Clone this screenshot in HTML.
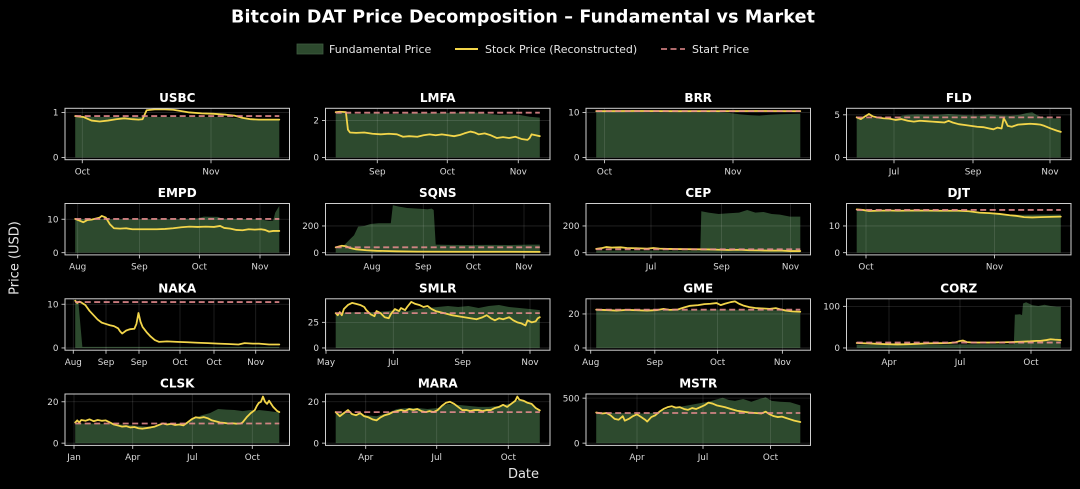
<!DOCTYPE html>
<html>
<head>
<meta charset="utf-8">
<style>
  html,body{margin:0;padding:0;background:#000;}
  svg{display:block;}
  .fill{fill:#2d4a2e;stroke:none;}
  .stk{fill:none;stroke:#f2d54a;stroke-width:1.8;vector-effect:non-scaling-stroke;stroke-linejoin:round;stroke-linecap:round;}
  .dash{stroke:#ec8f92;stroke-width:1.8;stroke-dasharray:6 3.5;opacity:0.85;}
  .grid{stroke:#ffffff;stroke-opacity:0.14;stroke-width:0.8;}
  .frame{fill:none;stroke:#cfcfcf;stroke-width:1;}
  .tick{stroke:#cfcfcf;stroke-width:0.9;}
  .tl{font-family:"DejaVu Sans","Liberation Sans",sans-serif;font-size:8.8px;fill:#dcdcdc;}
  .yl{text-anchor:end;}
  .xl{text-anchor:middle;}
  .ttl{font-family:"DejaVu Sans","Liberation Sans",sans-serif;font-size:12px;font-weight:bold;fill:#fff;text-anchor:middle;}
  .lg{font-family:"DejaVu Sans","Liberation Sans",sans-serif;font-size:11px;fill:#e6e6e6;}
  .ax{font-family:"DejaVu Sans","Liberation Sans",sans-serif;font-size:13px;fill:#e6e6e6;}
</style>
</head>
<body>
<svg width="1080" height="489" viewBox="0 0 1080 489" xmlns="http://www.w3.org/2000/svg">
<rect width="1080" height="489" fill="#000"/>

<!-- Title -->
<text x="523" y="22.5" text-anchor="middle" font-family="DejaVu Sans, Liberation Sans, sans-serif" font-size="17.5" font-weight="bold" fill="#fff" textLength="584">Bitcoin DAT Price Decomposition – Fundamental vs Market</text>

<!-- Legend -->
<rect x="297" y="44" width="26" height="10" fill="#2d4a2e" stroke="#3f5c40" stroke-width="0.8"/>
<text class="lg" x="329" y="53">Fundamental Price</text>
<line x1="455" y1="49" x2="478" y2="49" stroke="#f2d54a" stroke-width="2"/>
<text class="lg" x="485" y="53">Stock Price (Reconstructed)</text>
<line x1="661" y1="49" x2="685" y2="49" class="dash"/>
<text class="lg" x="692" y="53">Start Price</text>

<!-- Axis labels -->
<text class="ax" x="0" y="0" text-anchor="middle" transform="translate(18.5,258) rotate(-90)">Price (USD)</text>
<text class="ax" x="523.5" y="478" text-anchor="middle">Date</text>

<!-- ===== Panel 1: USBC ===== -->
<g transform="translate(65,108.3)">
  <text class="ttl" x="112.25" y="-6.5">USBC</text>
  <g transform="translate(10.2,49.16) scale(2.041,-45)">
    <polygon class="fill" points="0,0 0,0.92 5,0.91 10,0.9 20,0.9 30,0.9 40,0.9 50,0.9 60,0.9 70,0.9 75,0.89 80,0.87 85,0.85 90,0.84 100,0.84 100,0"/>
  </g>
  <line class="grid" x1="17.3" y1="0" x2="17.3" y2="51.4"/>
  <line class="grid" x1="146" y1="0" x2="146" y2="51.4"/>
  <line class="grid" x1="0" y1="49.16" x2="224.5" y2="49.16"/>
  <line class="grid" x1="0" y1="4.16" x2="224.5" y2="4.16"/>
  <g transform="translate(10.2,49.16) scale(2.041,-45)">
    <polyline class="stk" points="0,0.92 4,0.9 8,0.82 12,0.8 16,0.82 20,0.85 24,0.87 28,0.85 31,0.84 33,0.85 35,1.05 39,1.07 44,1.07 48,1.06 52,1.03 56,1.0 62,0.98 68,0.97 74,0.95 78,0.93 82,0.88 86,0.85 90,0.84 95,0.84 100,0.84"/>
  </g>
  <line class="dash" x1="10.2" y1="7.76" x2="214.3" y2="7.76"/>
  <rect class="frame" x="0" y="0" width="224.5" height="51.4"/>
  <line class="tick" x1="-3.5" y1="49.16" x2="0" y2="49.16"/><line class="tick" x1="-3.5" y1="4.16" x2="0" y2="4.16"/>
  <text class="tl yl" x="-6.5" y="52.4">0</text><text class="tl yl" x="-6.5" y="7.4">1</text>
  <line class="tick" x1="17.3" y1="51.4" x2="17.3" y2="54.9"/><line class="tick" x1="146" y1="51.4" x2="146" y2="54.9"/>
  <text class="tl xl" x="17.3" y="66">Oct</text><text class="tl xl" x="146" y="66">Nov</text>
</g>

<!-- ===== Panel 2: LMFA ===== -->
<g transform="translate(325.5,108.3)">
  <text class="ttl" x="112.25" y="-6.5">LMFA</text>
  <g transform="translate(10.2,49.16) scale(2.041,-18.5)">
    <polygon class="fill" points="0,0 0,2.45 5,2.4 10,2.35 20,2.38 30,2.35 40,2.4 50,2.4 60,2.42 65,2.48 70,2.42 75,2.35 80,2.3 85,2.32 90,2.3 95,2.2 100,2.15 100,0"/>
  </g>
  <line class="grid" x1="51.8" y1="0" x2="51.8" y2="51.4"/>
  <line class="grid" x1="121.8" y1="0" x2="121.8" y2="51.4"/>
  <line class="grid" x1="192.8" y1="0" x2="192.8" y2="51.4"/>
  <line class="grid" x1="0" y1="49.16" x2="224.5" y2="49.16"/>
  <line class="grid" x1="0" y1="12.16" x2="224.5" y2="12.16"/>
  <g transform="translate(10.2,49.16) scale(2.041,-18.5)">
    <polyline class="stk" points="0,2.45 2,2.47 5,2.45 6,1.5 7,1.35 10,1.33 14,1.35 18,1.28 22,1.25 26,1.28 30,1.25 33,1.12 36,1.15 40,1.12 43,1.2 46,1.25 49,1.2 52,1.25 55,1.2 58,1.15 61,1.22 63,1.3 66,1.4 68,1.35 70,1.25 73,1.3 76,1.2 79,1.05 82,1.1 85,1.05 88,1.12 91,1.0 94,0.95 95,1.05 96,1.25 98,1.2 100,1.15"/>
  </g>
  <line class="dash" x1="10.2" y1="4.39" x2="214.3" y2="4.39"/>
  <rect class="frame" x="0" y="0" width="224.5" height="51.4"/>
  <line class="tick" x1="-3.5" y1="49.16" x2="0" y2="49.16"/><line class="tick" x1="-3.5" y1="12.16" x2="0" y2="12.16"/>
  <text class="tl yl" x="-6.5" y="52.4">0</text><text class="tl yl" x="-6.5" y="15.4">2</text>
  <line class="tick" x1="51.8" y1="51.4" x2="51.8" y2="54.9"/><line class="tick" x1="121.8" y1="51.4" x2="121.8" y2="54.9"/><line class="tick" x1="192.8" y1="51.4" x2="192.8" y2="54.9"/>
  <text class="tl xl" x="51.8" y="66">Sep</text><text class="tl xl" x="121.8" y="66">Oct</text><text class="tl xl" x="192.8" y="66">Nov</text>
</g>

<!-- ===== Panel 3: BRR ===== -->
<g transform="translate(586,108.3)">
  <text class="ttl" x="112.25" y="-6.5">BRR</text>
  <g transform="translate(10.2,49.16) scale(2.041,-4.5)">
    <polygon class="fill" points="0,0 0,10.2 10,10.1 30,10.0 50,10.0 60,10.05 65,9.9 70,9.6 75,9.4 80,9.3 85,9.5 90,9.6 100,9.7 100,0"/>
  </g>
  <line class="grid" x1="18.5" y1="0" x2="18.5" y2="51.4"/>
  <line class="grid" x1="147" y1="0" x2="147" y2="51.4"/>
  <line class="grid" x1="0" y1="49.16" x2="224.5" y2="49.16"/>
  <line class="grid" x1="0" y1="4.16" x2="224.5" y2="4.16"/>
  <g transform="translate(10.2,49.16) scale(2.041,-4.5)">
    <polyline class="stk" points="0,10.3 20,10.32 40,10.28 60,10.3 80,10.32 100,10.3"/>
  </g>
  <line class="dash" x1="10.2" y1="2.81" x2="214.3" y2="2.81"/>
  <rect class="frame" x="0" y="0" width="224.5" height="51.4"/>
  <line class="tick" x1="-3.5" y1="49.16" x2="0" y2="49.16"/><line class="tick" x1="-3.5" y1="4.16" x2="0" y2="4.16"/>
  <text class="tl yl" x="-6.5" y="52.4">0</text><text class="tl yl" x="-6.5" y="7.4">10</text>
  <line class="tick" x1="18.5" y1="51.4" x2="18.5" y2="54.9"/><line class="tick" x1="147" y1="51.4" x2="147" y2="54.9"/>
  <text class="tl xl" x="18.5" y="66">Oct</text><text class="tl xl" x="147" y="66">Nov</text>
</g>

<!-- ===== Panel 4: FLD ===== -->
<g transform="translate(846.5,108.3)">
  <text class="ttl" x="112.25" y="-6.5">FLD</text>
  <g transform="translate(10.2,49.16) scale(2.041,-8.53)">
    <polygon class="fill" points="0,0 0,4.7 5,4.65 10,4.6 15,4.55 20,4.6 22,4.9 25,5.0 30,5.05 35,5.0 40,5.0 45,5.1 50,5.0 55,4.95 60,4.9 65,5.05 70,4.95 75,4.9 80,5.0 83,5.2 86,5.3 88,5.0 90,4.8 95,4.6 100,4.55 100,0"/>
  </g>
  <line class="grid" x1="47.5" y1="0" x2="47.5" y2="51.4"/>
  <line class="grid" x1="126.5" y1="0" x2="126.5" y2="51.4"/>
  <line class="grid" x1="203.5" y1="0" x2="203.5" y2="51.4"/>
  <line class="grid" x1="0" y1="49.16" x2="224.5" y2="49.16"/>
  <line class="grid" x1="0" y1="6.51" x2="224.5" y2="6.51"/>
  <g transform="translate(10.2,49.16) scale(2.041,-8.53)">
    <polyline class="stk" points="0,4.7 2,4.5 4,4.8 6,5.1 8,4.8 10,4.7 13,4.6 16,4.55 19,4.4 22,4.5 25,4.3 28,4.2 31,4.3 34,4.25 37,4.2 40,4.15 43,4.1 45,4.3 47,4.1 50,3.9 53,3.8 56,3.7 59,3.6 62,3.55 65,3.4 67,3.3 69,3.5 71,3.4 72,4.6 73,4.2 74,3.7 76,3.6 79,3.85 82,3.9 85,3.95 88,3.9 90,3.85 92,3.7 95,3.4 98,3.15 100,3.0"/>
  </g>
  <line class="dash" x1="10.2" y1="9.07" x2="214.3" y2="9.07"/>
  <rect class="frame" x="0" y="0" width="224.5" height="51.4"/>
  <line class="tick" x1="-3.5" y1="49.16" x2="0" y2="49.16"/><line class="tick" x1="-3.5" y1="6.51" x2="0" y2="6.51"/>
  <text class="tl yl" x="-6.5" y="52.4">0</text><text class="tl yl" x="-6.5" y="9.7">5</text>
  <line class="tick" x1="47.5" y1="51.4" x2="47.5" y2="54.9"/><line class="tick" x1="126.5" y1="51.4" x2="126.5" y2="54.9"/><line class="tick" x1="203.5" y1="51.4" x2="203.5" y2="54.9"/>
  <text class="tl xl" x="47.5" y="66">Jul</text><text class="tl xl" x="126.5" y="66">Sep</text><text class="tl xl" x="203.5" y="66">Nov</text>
</g>

<!-- ===== Panel 5: EMPD ===== -->
<g transform="translate(65,203.5)">
  <text class="ttl" x="112.25" y="-6.5">EMPD</text>
  <g transform="translate(10.2,49.16) scale(2.041,-3.34)">
    <polygon class="fill" points="0,0 0,10.1 10,10.0 20,10.0 30,10.0 40,10.0 50,10.0 60,10.3 63,10.8 70,10.7 72,10.2 80,10.1 90,10.0 95,9.5 97,9.6 98,12 100,14 100,0"/>
  </g>
  <line class="grid" x1="12.7" y1="0" x2="12.7" y2="51.4"/>
  <line class="grid" x1="74.4" y1="0" x2="74.4" y2="51.4"/>
  <line class="grid" x1="134.4" y1="0" x2="134.4" y2="51.4"/>
  <line class="grid" x1="195" y1="0" x2="195" y2="51.4"/>
  <line class="grid" x1="0" y1="49.16" x2="224.5" y2="49.16"/>
  <line class="grid" x1="0" y1="15.76" x2="224.5" y2="15.76"/>
  <g transform="translate(10.2,49.16) scale(2.041,-3.34)">
    <polyline class="stk" points="0,10.1 2,9.6 4,9.1 6,9.8 8,9.9 10,10.2 12,10.5 13,11.0 15,10.5 17,8.5 19,7.3 22,7.2 25,7.3 28,7.0 32,7.0 36,7.0 40,7.0 44,7.1 48,7.3 52,7.6 56,7.8 60,7.7 64,7.8 68,7.7 71,8.0 73,7.4 76,7.2 79,6.8 82,6.7 85,7.0 88,6.9 91,7.0 93,6.8 95,6.3 97,6.5 100,6.5"/>
  </g>
  <line class="dash" x1="10.2" y1="15.43" x2="214.3" y2="15.43"/>
  <rect class="frame" x="0" y="0" width="224.5" height="51.4"/>
  <line class="tick" x1="-3.5" y1="49.16" x2="0" y2="49.16"/><line class="tick" x1="-3.5" y1="15.76" x2="0" y2="15.76"/>
  <text class="tl yl" x="-6.5" y="52.4">0</text><text class="tl yl" x="-6.5" y="19">10</text>
  <line class="tick" x1="12.7" y1="51.4" x2="12.7" y2="54.9"/><line class="tick" x1="74.4" y1="51.4" x2="74.4" y2="54.9"/><line class="tick" x1="134.4" y1="51.4" x2="134.4" y2="54.9"/><line class="tick" x1="195" y1="51.4" x2="195" y2="54.9"/>
  <text class="tl xl" x="12.7" y="66">Aug</text><text class="tl xl" x="74.4" y="66">Sep</text><text class="tl xl" x="134.4" y="66">Oct</text><text class="tl xl" x="195" y="66">Nov</text>
</g>

<!-- ===== Panel 6: SQNS ===== -->
<g transform="translate(325.5,203.5)">
  <text class="ttl" x="112.25" y="-6.5">SQNS</text>
  <g transform="translate(10.2,49.16) scale(2.041,-0.1335)">
    <polygon class="fill" points="0,0 0,30 3,40 5,70 7,100 9,130 11,195 14,200 17,215 21,220 27,220 28,355 31,345 35,335 40,330 45,325 47,330 48,320 49,60 55,58 65,57 75,58 85,57 95,60 100,60 100,0"/>
  </g>
  <line class="grid" x1="46.5" y1="0" x2="46.5" y2="51.4"/>
  <line class="grid" x1="97.8" y1="0" x2="97.8" y2="51.4"/>
  <line class="grid" x1="147.8" y1="0" x2="147.8" y2="51.4"/>
  <line class="grid" x1="198.5" y1="0" x2="198.5" y2="51.4"/>
  <line class="grid" x1="0" y1="49.16" x2="224.5" y2="49.16"/>
  <line class="grid" x1="0" y1="22.46" x2="224.5" y2="22.46"/>
  <g transform="translate(10.2,49.16) scale(2.041,-0.1335)">
    <polyline class="stk" points="0,40 3,52 5,48 7,35 10,25 15,18 20,14 30,10 40,8 60,7 80,7 100,6"/>
  </g>
  <line class="dash" x1="10.2" y1="43.82" x2="214.3" y2="43.82"/>
  <rect class="frame" x="0" y="0" width="224.5" height="51.4"/>
  <line class="tick" x1="-3.5" y1="49.16" x2="0" y2="49.16"/><line class="tick" x1="-3.5" y1="22.46" x2="0" y2="22.46"/>
  <text class="tl yl" x="-6.5" y="52.4">0</text><text class="tl yl" x="-6.5" y="25.7">200</text>
  <line class="tick" x1="46.5" y1="51.4" x2="46.5" y2="54.9"/><line class="tick" x1="97.8" y1="51.4" x2="97.8" y2="54.9"/><line class="tick" x1="147.8" y1="51.4" x2="147.8" y2="54.9"/><line class="tick" x1="198.5" y1="51.4" x2="198.5" y2="54.9"/>
  <text class="tl xl" x="46.5" y="66">Aug</text><text class="tl xl" x="97.8" y="66">Sep</text><text class="tl xl" x="147.8" y="66">Oct</text><text class="tl xl" x="198.5" y="66">Nov</text>
</g>

<!-- ===== Panel 7: CEP ===== -->
<g transform="translate(586,203.5)">
  <text class="ttl" x="112.25" y="-6.5">CEP</text>
  <g transform="translate(10.2,49.16) scale(2.041,-0.1335)">
    <polygon class="fill" points="0,0 0,15 50,15 51,15 51.5,310 55,300 60,290 65,295 70,300 74,320 78,300 82,305 86,290 90,285 95,270 100,270 100,0"/>
  </g>
  <line class="grid" x1="65" y1="0" x2="65" y2="51.4"/>
  <line class="grid" x1="135.5" y1="0" x2="135.5" y2="51.4"/>
  <line class="grid" x1="204.5" y1="0" x2="204.5" y2="51.4"/>
  <line class="grid" x1="0" y1="49.16" x2="224.5" y2="49.16"/>
  <line class="grid" x1="0" y1="22.46" x2="224.5" y2="22.46"/>
  <g transform="translate(10.2,49.16) scale(2.041,-0.1335)">
    <polyline class="stk" points="0,28 3,35 5,42 8,38 12,40 15,35 20,33 25,30 28,35 31,30 35,28 40,27 45,26 50,25 55,24 60,22 65,20 70,22 75,18 80,17 85,15 90,16 95,12 100,12"/>
  </g>
  <line class="dash" x1="10.2" y1="45.82" x2="214.3" y2="45.82"/>
  <rect class="frame" x="0" y="0" width="224.5" height="51.4"/>
  <line class="tick" x1="-3.5" y1="49.16" x2="0" y2="49.16"/><line class="tick" x1="-3.5" y1="22.46" x2="0" y2="22.46"/>
  <text class="tl yl" x="-6.5" y="52.4">0</text><text class="tl yl" x="-6.5" y="25.7">200</text>
  <line class="tick" x1="65" y1="51.4" x2="65" y2="54.9"/><line class="tick" x1="135.5" y1="51.4" x2="135.5" y2="54.9"/><line class="tick" x1="204.5" y1="51.4" x2="204.5" y2="54.9"/>
  <text class="tl xl" x="65" y="66">Jul</text><text class="tl xl" x="135.5" y="66">Sep</text><text class="tl xl" x="204.5" y="66">Nov</text>
</g>

<!-- ===== Panel 8: DJT ===== -->
<g transform="translate(846.5,203.5)">
  <text class="ttl" x="112.25" y="-6.5">DJT</text>
  <g transform="translate(10.2,49.16) scale(2.041,-2.67)">
    <polygon class="fill" points="0,0 0,16.2 10,15.9 20,15.8 30,15.9 40,15.8 50,15.8 55,15.6 60,15.2 65,14.9 70,14.6 75,14.3 80,14.2 90,14.3 100,14.3 100,0"/>
  </g>
  <line class="grid" x1="19.5" y1="0" x2="19.5" y2="51.4"/>
  <line class="grid" x1="148" y1="0" x2="148" y2="51.4"/>
  <line class="grid" x1="0" y1="49.16" x2="224.5" y2="49.16"/>
  <line class="grid" x1="0" y1="22.46" x2="224.5" y2="22.46"/>
  <g transform="translate(10.2,49.16) scale(2.041,-2.67)">
    <polyline class="stk" points="0,16.2 3,16.0 6,15.6 10,15.7 15,15.8 20,15.7 30,15.8 40,15.7 50,15.7 55,15.5 60,15.0 65,14.8 70,14.5 75,14.0 78,13.8 82,13.3 86,13.2 90,13.3 95,13.4 100,13.5"/>
  </g>
  <line class="dash" x1="10.2" y1="6.44" x2="214.3" y2="6.44"/>
  <rect class="frame" x="0" y="0" width="224.5" height="51.4"/>
  <line class="tick" x1="-3.5" y1="49.16" x2="0" y2="49.16"/><line class="tick" x1="-3.5" y1="22.46" x2="0" y2="22.46"/>
  <text class="tl yl" x="-6.5" y="52.4">0</text><text class="tl yl" x="-6.5" y="25.7">10</text>
  <line class="tick" x1="19.5" y1="51.4" x2="19.5" y2="54.9"/><line class="tick" x1="148" y1="51.4" x2="148" y2="54.9"/>
  <text class="tl xl" x="19.5" y="66">Oct</text><text class="tl xl" x="148" y="66">Nov</text>
</g>

<!-- ===== Panel 9: NAKA ===== -->
<g transform="translate(65,298.8)">
  <text class="ttl" x="112.25" y="-6.5">NAKA</text>
  <g transform="translate(10.2,49.16) scale(2.041,-4.37)">
    <polygon class="fill" points="0,0 0,10.8 1.5,10.8 3.5,0.25 100,0.25 100,0"/>
  </g>
  <line class="grid" x1="8.3" y1="0" x2="8.3" y2="51.4"/>
  <line class="grid" x1="41" y1="0" x2="41" y2="51.4"/>
  <line class="grid" x1="74" y1="0" x2="74" y2="51.4"/>
  <line class="grid" x1="115" y1="0" x2="115" y2="51.4"/>
  <line class="grid" x1="149" y1="0" x2="149" y2="51.4"/>
  <line class="grid" x1="190.7" y1="0" x2="190.7" y2="51.4"/>
  <line class="grid" x1="0" y1="49.16" x2="224.5" y2="49.16"/>
  <line class="grid" x1="0" y1="5.46" x2="224.5" y2="5.46"/>
  <g transform="translate(10.2,49.16) scale(2.041,-4.37)">
    <polyline class="stk" points="0,10.8 1,10.3 2,10.6 3,10.4 5,9.8 7,8.5 9,7.5 11,6.5 13,5.8 15,5.5 17,5.2 19,5.0 21,4.5 22,3.8 23,3.3 25,4.0 27,4.3 29,4.4 30,5.5 31,8.0 32,6.0 33,4.8 35,3.6 37,2.6 39,1.8 41,1.4 45,1.5 50,1.4 55,1.3 60,1.2 65,1.1 70,1.0 75,0.9 80,0.8 83,1.1 87,1.0 90,1.0 95,0.8 100,0.8"/>
  </g>
  <line class="dash" x1="10.2" y1="3.27" x2="214.3" y2="3.27"/>
  <rect class="frame" x="0" y="0" width="224.5" height="51.4"/>
  <line class="tick" x1="-3.5" y1="49.16" x2="0" y2="49.16"/><line class="tick" x1="-3.5" y1="5.46" x2="0" y2="5.46"/>
  <text class="tl yl" x="-6.5" y="52.4">0</text><text class="tl yl" x="-6.5" y="8.7">10</text>
  <line class="tick" x1="8.3" y1="51.4" x2="8.3" y2="54.9"/><line class="tick" x1="41" y1="51.4" x2="41" y2="54.9"/><line class="tick" x1="74" y1="51.4" x2="74" y2="54.9"/><line class="tick" x1="115" y1="51.4" x2="115" y2="54.9"/><line class="tick" x1="149" y1="51.4" x2="149" y2="54.9"/><line class="tick" x1="190.7" y1="51.4" x2="190.7" y2="54.9"/>
  <text class="tl xl" x="8.3" y="66">Aug</text><text class="tl xl" x="41" y="66">Sep</text><text class="tl xl" x="74" y="66">Sep</text><text class="tl xl" x="115" y="66">Oct</text><text class="tl xl" x="149" y="66">Oct</text><text class="tl xl" x="190.7" y="66">Nov</text>
</g>

<!-- ===== Panel 10: SMLR ===== -->
<g transform="translate(325.5,298.8)">
  <text class="ttl" x="112.25" y="-6.5">SMLR</text>
  <g transform="translate(10.2,49.16) scale(2.041,-1.024)">
    <polygon class="fill" points="0,0 0,34 10,35 20,35 25,36 30,37 35,36 40,38 45,39 50,40 55,41 60,40 65,41 70,39 75,41 80,42 85,40 90,39 95,38 100,37 100,0"/>
  </g>
  <line class="grid" x1="0.5" y1="0" x2="0.5" y2="51.4"/>
  <line class="grid" x1="67.8" y1="0" x2="67.8" y2="51.4"/>
  <line class="grid" x1="137.2" y1="0" x2="137.2" y2="51.4"/>
  <line class="grid" x1="204.5" y1="0" x2="204.5" y2="51.4"/>
  <line class="grid" x1="0" y1="49.16" x2="224.5" y2="49.16"/>
  <line class="grid" x1="0" y1="23.56" x2="224.5" y2="23.56"/>
  <g transform="translate(10.2,49.16) scale(2.041,-1.024)">
    <polyline class="stk" points="0,34 1,32 2,35 3,32 4,38 6,42 8,44 10,43 12,42 14,40 15,37 17,33 19,31 20,36 22,34 24,30 26,29 27,33 29,38 31,36 32,39 34,37 35,40 37,45 39,43 41,42 43,40 45,41 47,38 49,36 51,35 53,34 55,33 57,32 60,31 63,30 66,29 69,28 72,30 74,32 76,29 78,27 80,29 82,28 85,30 87,27 89,25 91,24 93,22 94,27 96,25 98,26 99,29 100,30"/>
  </g>
  <line class="dash" x1="10.2" y1="14.34" x2="214.3" y2="14.34"/>
  <rect class="frame" x="0" y="0" width="224.5" height="51.4"/>
  <line class="tick" x1="-3.5" y1="49.16" x2="0" y2="49.16"/><line class="tick" x1="-3.5" y1="23.56" x2="0" y2="23.56"/>
  <text class="tl yl" x="-6.5" y="52.4">0</text><text class="tl yl" x="-6.5" y="26.8">25</text>
  <line class="tick" x1="0.5" y1="51.4" x2="0.5" y2="54.9"/><line class="tick" x1="67.8" y1="51.4" x2="67.8" y2="54.9"/><line class="tick" x1="137.2" y1="51.4" x2="137.2" y2="54.9"/><line class="tick" x1="204.5" y1="51.4" x2="204.5" y2="54.9"/>
  <text class="tl xl" x="0.5" y="66">May</text><text class="tl xl" x="67.8" y="66">Jul</text><text class="tl xl" x="137.2" y="66">Sep</text><text class="tl xl" x="204.5" y="66">Nov</text>
</g>

<!-- ===== Panel 11: GME ===== -->
<g transform="translate(586,298.8)">
  <text class="ttl" x="112.25" y="-6.5">GME</text>
  <g transform="translate(10.2,49.16) scale(2.041,-1.7)">
    <polygon class="fill" points="0,0 0,22.5 20,22.2 40,22.3 50,22.5 60,22.6 70,22.5 80,22.6 90,22 95,21.5 100,21 100,0"/>
  </g>
  <line class="grid" x1="4.7" y1="0" x2="4.7" y2="51.4"/>
  <line class="grid" x1="68.8" y1="0" x2="68.8" y2="51.4"/>
  <line class="grid" x1="131.6" y1="0" x2="131.6" y2="51.4"/>
  <line class="grid" x1="196.4" y1="0" x2="196.4" y2="51.4"/>
  <line class="grid" x1="0" y1="49.16" x2="224.5" y2="49.16"/>
  <line class="grid" x1="0" y1="15.16" x2="224.5" y2="15.16"/>
  <g transform="translate(10.2,49.16) scale(2.041,-1.7)">
    <polyline class="stk" points="0,22.5 5,22.3 10,22.0 15,22.4 20,22.2 25,22.0 30,22.3 33,23.0 36,22.4 40,22.6 43,23.8 46,24.8 50,25.2 53,25.8 56,26.0 59,26.4 61,25.2 63,26.0 66,27.0 68,27.4 70,26.0 72,25.0 75,24.0 78,23.5 82,23.2 85,23.0 88,23.4 90,22.8 93,22.0 96,21.5 100,21.3"/>
  </g>
  <line class="dash" x1="10.2" y1="10.91" x2="214.3" y2="10.91"/>
  <rect class="frame" x="0" y="0" width="224.5" height="51.4"/>
  <line class="tick" x1="-3.5" y1="49.16" x2="0" y2="49.16"/><line class="tick" x1="-3.5" y1="15.16" x2="0" y2="15.16"/>
  <text class="tl yl" x="-6.5" y="52.4">0</text><text class="tl yl" x="-6.5" y="18.4">20</text>
  <line class="tick" x1="4.7" y1="51.4" x2="4.7" y2="54.9"/><line class="tick" x1="68.8" y1="51.4" x2="68.8" y2="54.9"/><line class="tick" x1="131.6" y1="51.4" x2="131.6" y2="54.9"/><line class="tick" x1="196.4" y1="51.4" x2="196.4" y2="54.9"/>
  <text class="tl xl" x="4.7" y="66">Aug</text><text class="tl xl" x="68.8" y="66">Sep</text><text class="tl xl" x="131.6" y="66">Oct</text><text class="tl xl" x="196.4" y="66">Nov</text>
</g>

<!-- ===== Panel 12: CORZ ===== -->
<g transform="translate(846.5,298.8)">
  <text class="ttl" x="112.25" y="-6.5">CORZ</text>
  <g transform="translate(10.2,49.16) scale(2.041,-0.416)">
    <polygon class="fill" points="0,0 0,8 20,7 40,8 60,9 77,9 77.5,80 80,81 81,79 81.5,107 83,110 86,103 89,101 92,104 95,101 98,99 100,99 100,0"/>
  </g>
  <line class="grid" x1="42.5" y1="0" x2="42.5" y2="51.4"/>
  <line class="grid" x1="113.5" y1="0" x2="113.5" y2="51.4"/>
  <line class="grid" x1="184.5" y1="0" x2="184.5" y2="51.4"/>
  <line class="grid" x1="0" y1="49.16" x2="224.5" y2="49.16"/>
  <line class="grid" x1="0" y1="7.56" x2="224.5" y2="7.56"/>
  <g transform="translate(10.2,49.16) scale(2.041,-0.416)">
    <polyline class="stk" points="0,12 5,11 10,10 15,9 20,8.5 25,9 30,10 35,11 40,11.5 45,12 48,13 50,16 52,18 54,14 57,13 60,13 65,13 70,13.5 75,14 80,15 85,16 88,17 90,17 93,19 95,21 97,20 100,19"/>
  </g>
  <line class="dash" x1="10.2" y1="43.75" x2="214.3" y2="43.75"/>
  <rect class="frame" x="0" y="0" width="224.5" height="51.4"/>
  <line class="tick" x1="-3.5" y1="49.16" x2="0" y2="49.16"/><line class="tick" x1="-3.5" y1="7.56" x2="0" y2="7.56"/>
  <text class="tl yl" x="-6.5" y="52.4">0</text><text class="tl yl" x="-6.5" y="10.8">100</text>
  <line class="tick" x1="42.5" y1="51.4" x2="42.5" y2="54.9"/><line class="tick" x1="113.5" y1="51.4" x2="113.5" y2="54.9"/><line class="tick" x1="184.5" y1="51.4" x2="184.5" y2="54.9"/>
  <text class="tl xl" x="42.5" y="66">Apr</text><text class="tl xl" x="113.5" y="66">Jul</text><text class="tl xl" x="184.5" y="66">Oct</text>
</g>

<!-- ===== Panel 13: CLSK ===== -->
<g transform="translate(65,394)">
  <text class="ttl" x="112.25" y="-6.5">CLSK</text>
  <g transform="translate(10.2,49.16) scale(2.041,-2.07)">
    <polygon class="fill" points="0,0 0,9.5 10,9.5 20,9.2 30,8.5 35,8 40,8.5 45,9.2 50,9.3 55,9.8 58,12 62,13.5 66,14.5 70,16.5 74,16.2 78,16 82,15.5 86,16 88,15.5 90,16 95,15.5 100,14.8 100,0"/>
  </g>
  <line class="grid" x1="9" y1="0" x2="9" y2="51.4"/>
  <line class="grid" x1="67.7" y1="0" x2="67.7" y2="51.4"/>
  <line class="grid" x1="127.3" y1="0" x2="127.3" y2="51.4"/>
  <line class="grid" x1="187.3" y1="0" x2="187.3" y2="51.4"/>
  <line class="grid" x1="0" y1="49.16" x2="224.5" y2="49.16"/>
  <line class="grid" x1="0" y1="7.76" x2="224.5" y2="7.76"/>
  <g transform="translate(10.2,49.16) scale(2.041,-2.07)">
    <polyline class="stk" points="0,10 1,11 2,10 3,11.2 5,10.8 7,11.5 9,10.6 11,11.2 13,10.8 15,11 17,10 19,9 21,8.5 23,8 25,8.2 27,7.6 29,7.8 31,7.2 33,7.0 35,7.3 37,7.6 39,8 41,8.8 43,9.5 45,9 47,9.3 49,8.8 51,9 53,8.6 55,10 57,11.5 59,12.5 61,12.2 63,12.6 65,12 67,11 69,10.5 71,10 73,9.8 75,9.5 77,9.6 79,9.4 81,9.5 82,10 84,12.5 86,14.5 88,16 89,18 90,19.5 91,20 92,22.5 93,20 94,19 95,20.5 96,19 97,17.5 98,16.5 99,15.5 100,15"/>
  </g>
  <line class="dash" x1="10.2" y1="29.49" x2="214.3" y2="29.49"/>
  <rect class="frame" x="0" y="0" width="224.5" height="51.4"/>
  <line class="tick" x1="-3.5" y1="49.16" x2="0" y2="49.16"/><line class="tick" x1="-3.5" y1="7.76" x2="0" y2="7.76"/>
  <text class="tl yl" x="-6.5" y="52.4">0</text><text class="tl yl" x="-6.5" y="11">20</text>
  <line class="tick" x1="9" y1="51.4" x2="9" y2="54.9"/><line class="tick" x1="67.7" y1="51.4" x2="67.7" y2="54.9"/><line class="tick" x1="127.3" y1="51.4" x2="127.3" y2="54.9"/><line class="tick" x1="187.3" y1="51.4" x2="187.3" y2="54.9"/>
  <text class="tl xl" x="9" y="66">Jan</text><text class="tl xl" x="67.7" y="66">Apr</text><text class="tl xl" x="127.3" y="66">Jul</text><text class="tl xl" x="187.3" y="66">Oct</text>
</g>

<!-- ===== Panel 14: MARA ===== -->
<g transform="translate(325.5,394)">
  <text class="ttl" x="112.25" y="-6.5">MARA</text>
  <g transform="translate(10.2,49.16) scale(2.041,-2.07)">
    <polygon class="fill" points="0,0 0,15 5,14.5 10,14 15,13.5 20,13 25,14.5 30,16.5 35,17 40,17 45,16.5 50,17 55,19 60,18.5 65,18 70,17.5 75,17.5 80,18 85,19 88,20 90,21.5 93,20 96,18.5 100,16 100,0"/>
  </g>
  <line class="grid" x1="40.2" y1="0" x2="40.2" y2="51.4"/>
  <line class="grid" x1="111.2" y1="0" x2="111.2" y2="51.4"/>
  <line class="grid" x1="182.8" y1="0" x2="182.8" y2="51.4"/>
  <line class="grid" x1="0" y1="49.16" x2="224.5" y2="49.16"/>
  <line class="grid" x1="0" y1="7.76" x2="224.5" y2="7.76"/>
  <g transform="translate(10.2,49.16) scale(2.041,-2.07)">
    <polyline class="stk" points="0,15 2,13 4,14.5 6,16 8,14 10,13.5 12,14.5 14,13 16,12.5 18,11.5 20,11 22,12.5 24,13.5 26,14 28,15 30,15.5 32,16 34,15.5 36,16.5 38,16 40,16.5 42,15.5 44,15 46,15.5 48,15 50,16 52,18 54,19.5 56,20 58,19 60,17.5 62,16 64,16 66,15.5 68,16 70,16 72,15.5 74,16 76,16 78,17 80,17.5 82,18.5 84,17.5 86,19 88,20.5 89,22.5 90,21 92,20.5 94,19.5 96,19 98,17 100,15.8"/>
  </g>
  <line class="dash" x1="10.2" y1="18.11" x2="214.3" y2="18.11"/>
  <rect class="frame" x="0" y="0" width="224.5" height="51.4"/>
  <line class="tick" x1="-3.5" y1="49.16" x2="0" y2="49.16"/><line class="tick" x1="-3.5" y1="7.76" x2="0" y2="7.76"/>
  <text class="tl yl" x="-6.5" y="52.4">0</text><text class="tl yl" x="-6.5" y="11">20</text>
  <line class="tick" x1="40.2" y1="51.4" x2="40.2" y2="54.9"/><line class="tick" x1="111.2" y1="51.4" x2="111.2" y2="54.9"/><line class="tick" x1="182.8" y1="51.4" x2="182.8" y2="54.9"/>
  <text class="tl xl" x="40.2" y="66">Apr</text><text class="tl xl" x="111.2" y="66">Jul</text><text class="tl xl" x="182.8" y="66">Oct</text>
</g>

<!-- ===== Panel 15: MSTR ===== -->
<g transform="translate(586,394)">
  <text class="ttl" x="112.25" y="-6.5">MSTR</text>
  <g transform="translate(10.2,49.16) scale(2.041,-0.09)">
    <polygon class="fill" points="0,0 0,340 10,335 20,330 25,330 30,345 35,380 40,400 45,420 50,440 55,460 58,480 62,505 65,480 68,470 72,490 76,460 80,490 83,510 86,470 90,460 95,455 100,420 100,0"/>
  </g>
  <line class="grid" x1="51" y1="0" x2="51" y2="51.4"/>
  <line class="grid" x1="117" y1="0" x2="117" y2="51.4"/>
  <line class="grid" x1="184.5" y1="0" x2="184.5" y2="51.4"/>
  <line class="grid" x1="0" y1="49.16" x2="224.5" y2="49.16"/>
  <line class="grid" x1="0" y1="4.16" x2="224.5" y2="4.16"/>
  <g transform="translate(10.2,49.16) scale(2.041,-0.09)">
    <polyline class="stk" points="0,340 3,330 5,335 7,310 9,270 11,260 13,300 14,250 16,270 18,300 20,320 22,290 24,260 25,240 27,290 29,310 31,350 33,380 35,400 37,410 39,395 41,400 43,380 45,370 47,390 49,380 51,400 53,420 55,450 57,440 59,420 61,410 63,400 66,380 69,360 72,350 75,340 78,335 81,330 83,350 85,320 87,300 89,290 91,295 93,280 95,265 97,250 100,235"/>
  </g>
  <line class="dash" x1="10.2" y1="19.01" x2="214.3" y2="19.01"/>
  <rect class="frame" x="0" y="0" width="224.5" height="51.4"/>
  <line class="tick" x1="-3.5" y1="49.16" x2="0" y2="49.16"/><line class="tick" x1="-3.5" y1="4.16" x2="0" y2="4.16"/>
  <text class="tl yl" x="-6.5" y="52.4">0</text><text class="tl yl" x="-6.5" y="7.4">500</text>
  <line class="tick" x1="51" y1="51.4" x2="51" y2="54.9"/><line class="tick" x1="117" y1="51.4" x2="117" y2="54.9"/><line class="tick" x1="184.5" y1="51.4" x2="184.5" y2="54.9"/>
  <text class="tl xl" x="51" y="66">Apr</text><text class="tl xl" x="117" y="66">Jul</text><text class="tl xl" x="184.5" y="66">Oct</text>
</g>

</svg>
</body>
</html>
